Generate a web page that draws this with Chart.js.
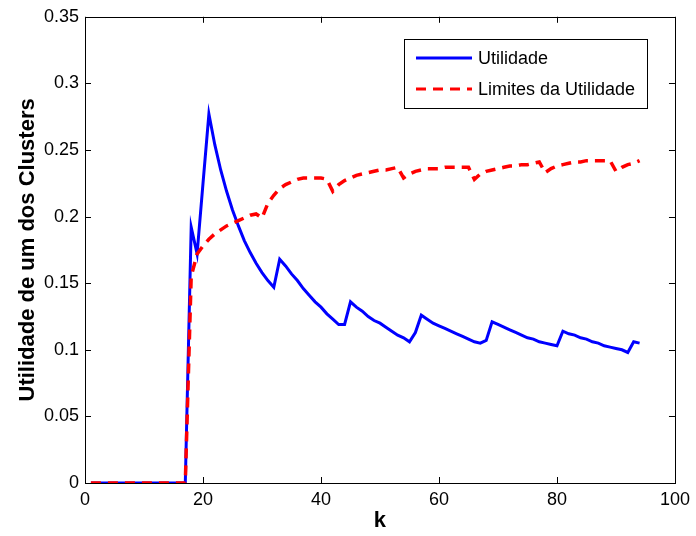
<!DOCTYPE html>
<html>
<head>
<meta charset="utf-8">
<script src="https://cdn.jsdelivr.net/npm/chart.js@4"></script>
<style>
  html, body { margin: 0; padding: 0; background: #fff; }
  #wrap { width: 696px; height: 536px; }
</style>
</head>
<body>
<div id="wrap"><canvas id="mainChart" width="696" height="536"></canvas></div>
<script>
// k values (x axis)
var kValues = [
  1, 2, 3, 4, 5, 6, 7, 8, 9, 10, 11, 12, 13, 14, 15, 16, 17,
  18, 19, 20, 21, 22, 23, 24, 25, 26, 27, 28, 29, 30, 31, 32,
  33, 34, 35, 36, 37, 38, 39, 40, 41, 42, 43, 44,
  45, 46, 47, 48, 49, 50, 51, 52, 53, 54, 55, 56,
  57, 58, 59, 60, 61, 62, 63, 64, 65, 66, 67, 68,
  69, 70, 71, 72, 73, 74, 75, 76, 77, 78, 79, 80,
  81, 82, 83, 84, 85, 86, 87, 88, 89, 90, 91, 92, 93, 94
];

// Utilidade (blue)
var utilidade = [
  0, 0, 0, 0, 0, 0, 0, 0, 0, 0, 0, 0, 0, 0, 0, 0, 0,
  0.192, 0.172, 0.225, 0.277, 0.254, 0.235, 0.219, 0.205, 0.193, 0.182, 0.173, 0.165, 0.158, 0.152, 0.147,
  0.168, 0.163, 0.157, 0.152, 0.146, 0.141, 0.136, 0.132, 0.127, 0.123, 0.119, 0.119,
  0.136, 0.132, 0.129, 0.125, 0.122, 0.120, 0.117, 0.114, 0.111, 0.109, 0.106, 0.113,
  0.126, 0.123, 0.120, 0.118, 0.116, 0.114, 0.112, 0.110, 0.108, 0.106, 0.105, 0.107,
  0.121, 0.119, 0.117, 0.115, 0.113, 0.111, 0.109, 0.108, 0.106, 0.105, 0.104, 0.103,
  0.114, 0.112, 0.111, 0.109, 0.108, 0.106, 0.105, 0.103, 0.102, 0.101, 0.100, 0.098, 0.106, 0.105
];

// Limites da Utilidade (red dashed)
var limites = [
  0, 0, 0, 0, 0, 0, 0, 0, 0, 0, 0, 0, 0, 0, 0, 0, 0,
  0.155, 0.172, 0.178, 0.183, 0.187, 0.190, 0.193, 0.195, 0.197, 0.199, 0.201, 0.202, 0.199,
  0.210, 0.216, 0.221, 0.224, 0.226, 0.228, 0.229, 0.229, 0.229, 0.229, 0.228, 0.219,
  0.224, 0.227, 0.229, 0.231, 0.232, 0.233, 0.234, 0.235, 0.235, 0.236, 0.237, 0.229,
  0.232, 0.234, 0.235, 0.236, 0.236, 0.236, 0.237, 0.237, 0.237, 0.237, 0.237, 0.228,
  0.232, 0.234, 0.235, 0.236, 0.237, 0.238, 0.238, 0.239, 0.239, 0.240, 0.241, 0.233,
  0.236, 0.238, 0.239, 0.240, 0.241, 0.241, 0.242, 0.242, 0.242, 0.242, 0.242, 0.234,
  0.237, 0.239, 0.240, 0.242
];

var seriesNames = ['Utilidade', 'Limites da Utilidade'];
var yTicks = [0, 0.05, 0.1, 0.15, 0.2, 0.25, 0.3, 0.35];
var xTicks = [0, 20, 40, 60, 80, 100];

function toPoints(arr) {
  var pts = [];
  for (var i = 0; i < kValues.length; i++) {
    pts.push({ x: kValues[i], y: arr[i] });
  }
  return pts;
}

Chart.defaults.font.family = '"Liberation Sans", Arial, Helvetica, sans-serif';
Chart.defaults.color = '#000';

var dashes = [10, 7];

// box around the plot + inward ticks (matlab style) + legend
var framePlugin = {
  id: 'frame',
  afterDraw: function(chart) {
    var c = chart.ctx;
    var a = chart.chartArea;
    var xs = chart.scales.x, ys = chart.scales.y;
    c.save();
    c.strokeStyle = '#000';
    c.lineWidth = 1;
    c.strokeRect(Math.round(a.left) + 0.5, Math.round(a.top) + 0.5,
      Math.round(a.right - a.left), Math.round(a.bottom - a.top));
    c.beginPath();
    xTicks.forEach(function(v) {
      var px = Math.round(xs.getPixelForValue(v)) + 0.5;
      c.moveTo(px, a.bottom); c.lineTo(px, a.bottom - 6);
      c.moveTo(px, a.top); c.lineTo(px, a.top + 6);
    });
    yTicks.forEach(function(v) {
      var py = Math.round(ys.getPixelForValue(v)) + 0.5;
      c.moveTo(a.left, py); c.lineTo(a.left + 6, py);
      c.moveTo(a.right, py); c.lineTo(a.right - 6, py);
    });
    c.stroke();

    // legend
    var lx = 404, ly = 39, lw = 243, lh = 69;
    c.fillStyle = '#fff';
    c.fillRect(lx, ly, lw, lh);
    c.strokeRect(lx + 0.5, ly + 0.5, lw, lh);
    var rows = [58, 89];
    var sets = chart.data.datasets;
    for (var i = 0; i < 2; i++) {
      c.beginPath();
      c.strokeStyle = sets[i].borderColor;
      c.lineWidth = 3;
      c.setLineDash(sets[i].borderDash || []);
      c.moveTo(416, rows[i]);
      c.lineTo(472, rows[i]);
      c.stroke();
      c.setLineDash([]);
      c.fillStyle = '#000';
      c.font = '18px "Liberation Sans", Arial, sans-serif';
      c.textBaseline = 'middle';
      c.textAlign = 'left';
      c.fillText(seriesNames[i], 478, rows[i] + 1);
    }
    c.restore();
  }
};

var ctx = document.getElementById('mainChart');
var myChart = new Chart(ctx, {
  type: 'line',
  data: {
    datasets: [
      {
        label: seriesNames[0],
        data: toPoints(utilidade),
        borderColor: '#0000ff',
        borderWidth: 3,
        pointRadius: 0,
        tension: 0,
        order: 1
      },
      {
        label: seriesNames[1],
        data: toPoints(limites),
        borderColor: '#ff0000',
        borderWidth: 3.5,
        borderDash: dashes,
        pointRadius: 0,
        tension: 0,
        order: 0
      }
    ]
  },
  options: {
    responsive: false,
    animation: false,
    layout: { padding: { top: 16, right: 19, left: 0, bottom: 0 } },
    plugins: {
      legend: { display: false },
      tooltip: { enabled: false }
    },
    scales: {
      x: {
        type: 'linear',
        min: 0,
        max: 100,
        afterFit: function(s) { s.height = 53; },
        afterBuildTicks: function(s) { s.ticks = xTicks.map(function(v) { return { value: v }; }); },
        grid: { display: false, drawTicks: false },
        border: { display: false },
        ticks: { padding: 6, font: { size: 18 }, maxRotation: 0 },
        title: { display: true, text: 'k', font: { size: 22, weight: 'bold' }, padding: { top: 0, bottom: 2 } }
      },
      y: {
        type: 'linear',
        min: 0,
        max: 0.35,
        afterFit: function(s) { s.width = 85; },
        afterBuildTicks: function(s) { s.ticks = yTicks.map(function(v) { return { value: v }; }); },
        grid: { display: false, drawTicks: false },
        border: { display: false },
        ticks: {
          padding: 6,
          font: { size: 18 },
          callback: function(v) { return String(Math.round(v * 100) / 100); }
        },
        title: { display: true, text: 'Utilidade de um dos Clusters', font: { size: 22, weight: 'bold' }, padding: { top: 15, bottom: 0 } }
      }
    }
  },
  plugins: [framePlugin]
});
</script>
</body>
</html>
